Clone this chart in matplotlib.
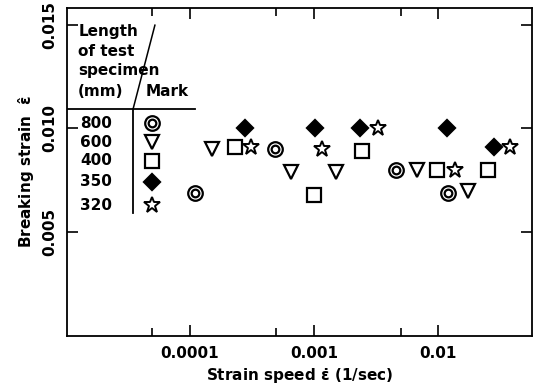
import matplotlib
matplotlib.use("Agg")
import matplotlib.pyplot as plt

plt.rcParams['font.family'] = ['DejaVu Sans']
plt.rcParams['font.weight'] = 'bold'
plt.rcParams['mathtext.default'] = 'regular'

# specimen lengths (mm) and measured points (strain speed, breaking strain)
lengths = ['800', '600', '400', '350', '320']
header_lines = ['Length', 'of test', 'specimen', '(mm)']

x_800 = [1.1e-4, 4.9e-4, 4.6e-3, 1.2e-2]
y_800 = [0.0069, 0.0090, 0.0080, 0.0069]

x_600 = [1.5e-4, 6.5e-4, 1.5e-3, 6.8e-3, 1.75e-2]
y_600 = [0.0090, 0.0079, 0.0079, 0.0080, 0.0070]

x_400 = [2.3e-4, 1.0e-3, 2.45e-3, 9.8e-3, 2.5e-2]
y_400 = [0.0091, 0.0068, 0.0089, 0.0080, 0.0080]

x_350 = [2.8e-4, 1.03e-3, 2.35e-3, 1.18e-2, 2.8e-2]
y_350 = [0.0100, 0.0100, 0.0100, 0.0100, 0.0091]

x_320 = [3.1e-4, 1.17e-3, 3.3e-3, 1.37e-2, 3.8e-2]
y_320 = [0.0091, 0.0090, 0.0100, 0.0080, 0.0091]

x_ticks = [1e-4, 1e-3, 1e-2]
x_ticklabels = ['0.0001', '0.001', '0.01']
x_minor = [5e-5, 5e-4, 5e-3]
y_ticks = [0.005, 0.010, 0.015]
y_ticklabels = ['0.005', '0.010', '0.015']

fig = plt.figure(figsize=(5.34, 3.87), dpi=100)
ax = fig.add_axes([0.1255, 0.1318, 0.8708, 0.8472])

k = dict(linestyle='none', color='black', markeredgewidth=1.6)


def draw_marks(xs, ys, kind, tr=None):
    '''draws one symbol type; tr lets the legend use axes coords'''
    extra = {} if tr is None else {'transform': tr}
    if kind == '800':
        ax.plot(xs, ys, marker='o', markersize=10.5, markerfacecolor='none', **k, **extra)
        ax.plot(xs, ys, marker='o', markersize=5.5, markerfacecolor='none', **k, **extra)
    elif kind == '600':
        ax.plot(xs, ys, marker='v', markersize=10.5, markerfacecolor='none', **k, **extra)
    elif kind == '400':
        ax.plot(xs, ys, marker='s', markersize=9.5, markerfacecolor='none', **k, **extra)
    elif kind == '350':
        ax.plot(xs, ys, marker='D', markersize=8.5, markerfacecolor='black', **k, **extra)
    else:
        ax.plot(xs, ys, marker='*', markersize=12, markerfacecolor='none',
                linestyle='none', color='black', markeredgewidth=1.4, **extra)


draw_marks(x_800, y_800, '800')
draw_marks(x_600, y_600, '600')
draw_marks(x_400, y_400, '400')
draw_marks(x_350, y_350, '350')
draw_marks(x_320, y_320, '320')

ax.set_xscale('log')
ax.set_xlim(1.03e-5, 0.057)
ax.set_ylim(0, 0.0158)

ax.set_xticks(x_ticks)
ax.set_xticklabels(x_ticklabels, fontsize=11, fontweight='bold')
ax.set_xticks(x_minor, minor=True)
ax.set_xticklabels([], minor=True)
ax.set_yticks(y_ticks)
ax.set_yticklabels(y_ticklabels, fontsize=11, fontweight='bold', rotation=90, va='center')
ax.tick_params(which='both', direction='in', top=True, right=True, width=1.2)
ax.tick_params(which='major', length=8, pad=7)
ax.tick_params(which='minor', length=6)
for s in ax.spines.values():
    s.set_linewidth(1.3)

ax.set_xlabel(r'Strain speed $\dot{\varepsilon}$ (1/sec)', fontsize=11, fontweight='bold', labelpad=4)
ax.set_ylabel(r'Breaking strain  $\hat{\varepsilon}$', fontsize=11, fontweight='bold', labelpad=4)

# legend table drawn inside the axes
T = ax.transAxes
ax.plot([0, 0.275], [0.692, 0.692], color='black', lw=1.3, transform=T)
ax.plot([0.142, 0.142], [0.692, 0.375], color='black', lw=1.3, transform=T)
ax.plot([0.142, 0.189], [0.692, 0.948], color='black', lw=1.1, transform=T)
head_y = [0.930, 0.869, 0.811, 0.747]
for line, yy in zip(header_lines, head_y):
    ax.text(0.024, yy, line, transform=T, fontsize=11, fontweight='bold', va='center', ha='left')
ax.text(0.168, 0.747, 'Mark', transform=T, fontsize=11, fontweight='bold', va='center', ha='left')

leg_y = [0.649, 0.591, 0.534, 0.470, 0.399]
for lab, yy in zip(lengths, leg_y):
    ax.text(0.028, yy, lab, transform=T, fontsize=11, fontweight='bold', va='center', ha='left')
    draw_marks([0.183], [yy], lab, tr=T)

fig.savefig('out.png', dpi=100)
